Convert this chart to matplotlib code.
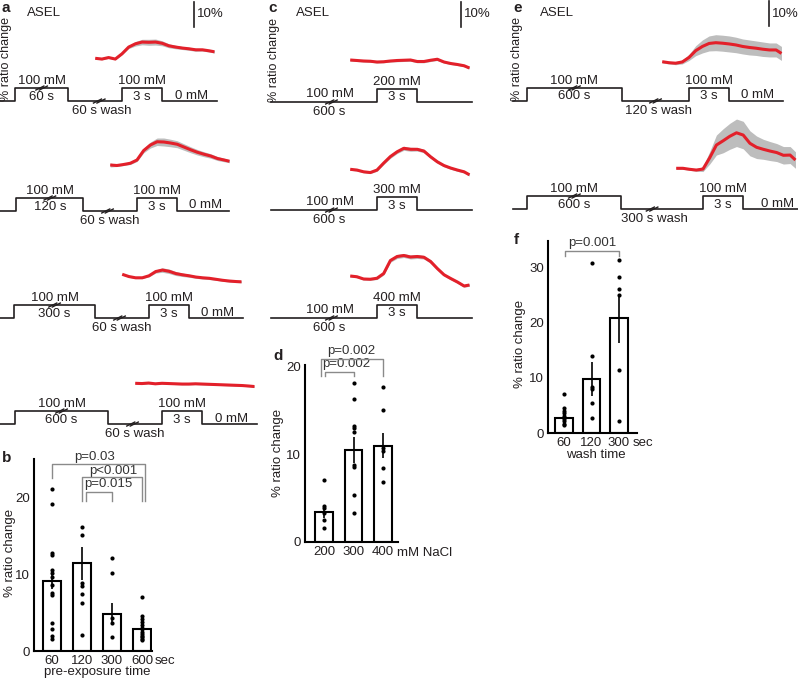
import matplotlib
matplotlib.use('Agg')
import matplotlib.pyplot as plt

plt.rcParams['font.family'] = ['Liberation Sans', 'DejaVu Sans']

W, H = 798, 679
PXS = 13.4   # pixels per second in the trace rows
PXP = 2.5    # pixels per % ratio change
RED = '#e3202a'
GREY = '#bdbdbd'
INK = '#231f20'
FS = 9.5

# ---- calcium traces (% ratio change, baseline = 0) ----
t_trace = [-2.0, -1.5, -1.0, -0.5, 0.0, 0.5, 1.0, 1.5, 2.0, 2.5,
           3.0, 3.5, 4.0, 4.5, 5.0, 5.5, 6.0, 6.5, 6.9]

a_60 = [0, -0.3, 0.3, -0.3, 1.8, 4.5, 5.8, 6.5, 6.4, 6.5, 6.0, 5.0, 4.5, 4.1, 3.8, 3.4, 3.4, 3.0, 2.6]
a_60_sem = [0.3, 0.3, 0.3, 0.3, 0.4, 0.6, 0.9, 1.1, 1.2, 1.2, 1.0, 0.8, 0.7, 0.6, 0.6, 0.6, 0.5, 0.5, 0.5]
a_120 = [0, -0.2, 0.2, 0.7, 2.0, 5.8, 8.0, 9.3, 9.2, 8.8, 8.3, 7.2, 6.1, 5.1, 4.3, 3.6, 2.6, 2.0, 1.5]
a_120_sem = [0.8, 0.4, 0.4, 0.5, 0.6, 0.9, 1.2, 1.5, 1.6, 1.5, 1.4, 1.3, 1.2, 1.1, 1.0, 0.9, 0.8, 0.7, 0.6]
a_300 = [0, -0.9, -1.4, -1.4, -0.6, 1.1, 1.7, 1.2, 0.3, -0.2, -0.6, -1.1, -1.4, -1.6, -2.0, -2.4, -2.7, -2.9, -3.0]
a_300_sem = [0.3, 0.3, 0.3, 0.3, 0.4, 0.6, 0.9, 0.9, 0.8, 0.7, 0.6, 0.5, 0.5, 0.5, 0.4, 0.4, 0.4, 0.4, 0.4]
a_600 = [0, -0.1, 0.1, -0.2, 0.0, -0.1, -0.2, -0.3, -0.3, -0.2, -0.3, -0.4, -0.5, -0.6, -0.7, -0.8, -0.9, -1.1, -1.3]
a_600_sem = [0.3, 0.3, 0.3, 0.3, 0.3, 0.3, 0.3, 0.3, 0.3, 0.3, 0.3, 0.3, 0.3, 0.3, 0.3, 0.3, 0.3, 0.3, 0.3]

c_200 = [0, -0.2, -0.4, -0.5, -0.8, -0.7, -0.4, -0.2, -0.1, 0.0, -0.6, -0.6, -0.1, 0.3, -0.8, -1.4, -1.8, -2.3, -3.2]
c_200_sem = [0.4, 0.4, 0.4, 0.4, 0.4, 0.4, 0.4, 0.5, 0.5, 0.5, 0.5, 0.5, 0.5, 0.5, 0.4, 0.4, 0.4, 0.4, 0.4]
c_300 = [0, -0.3, -1.0, -1.3, -0.3, 2.5, 5.1, 7.0, 8.4, 8.0, 8.0, 7.3, 5.0, 3.0, 1.5, 0.5, -0.3, -1.0, -2.2]
c_300_sem = [0.4, 0.4, 0.4, 0.4, 0.5, 0.6, 0.7, 0.7, 0.8, 0.8, 0.7, 0.7, 0.6, 0.6, 0.5, 0.5, 0.5, 0.5, 0.5]
c_400 = [0, -0.3, -1.2, -1.3, -0.9, 1.0, 6.2, 7.8, 8.2, 7.6, 7.8, 7.5, 5.8, 3.0, 0.5, -1.0, -2.4, -4.0, -3.6]
c_400_sem = [0.4, 0.4, 0.4, 0.4, 0.5, 0.6, 0.7, 0.8, 0.8, 0.8, 0.8, 0.7, 0.7, 0.6, 0.5, 0.5, 0.5, 0.5, 0.5]

e_120 = [0, -0.4, -0.6, -0.1, 1.7, 4.4, 6.1, 7.3, 7.6, 7.4, 7.1, 6.7, 6.1, 5.7, 5.4, 5.0, 4.7, 4.7, 3.3]
e_120_sem = [0.5, 0.5, 0.6, 0.8, 1.2, 2.0, 2.6, 3.0, 3.2, 3.2, 3.2, 3.1, 3.0, 3.0, 2.9, 2.9, 2.8, 2.8, 2.8]
e_300 = [0, 0.0, -0.4, -0.7, -0.3, 4.2, 9.3, 11.0, 12.8, 14.2, 13.3, 10.0, 8.4, 7.6, 6.9, 6.3, 5.2, 5.3, 3.3]
e_300_sem = [0.4, 0.4, 0.4, 0.5, 1.0, 2.5, 4.0, 4.8, 5.2, 5.5, 5.5, 5.0, 4.5, 4.0, 3.8, 3.6, 3.5, 3.4, 3.3]

# ---- bar charts ----
b_labels = ['60', '120', '300', '600']
b_means = [9.1, 11.4, 4.8, 2.8]
b_sems = [1.0, 2.1, 1.4, 0.4]
b_dots = [[21.1, 19.2, 12.7, 12.5, 10.6, 10.2, 9.6, 8.6, 7.5, 7.3, 3.7, 2.8, 1.9, 1.5],
          [16.1, 15.1, 8.8, 8.5, 7.4, 6.2, 2.1],
          [12.1, 10.2, 4.3, 3.7, 1.8],
          [7.0, 4.5, 4.2, 3.8, 3.4, 3.0, 2.8, 2.5, 2.2, 2.0, 1.8, 1.6, 1.4]]

d_labels = ['200', '300', '400']
d_means = [3.4, 10.5, 11.0]
d_sems = [0.7, 1.5, 1.4]
d_dots = [[7.1, 4.1, 3.9, 3.3, 2.5, 1.6],
          [18.2, 16.3, 13.2, 13.0, 12.5, 8.8, 8.6, 5.4, 3.3],
          [17.7, 15.1, 10.7, 10.4, 8.5, 6.8]]

f_labels = ['60', '120', '300']
f_means = [2.8, 9.8, 20.7]
f_sems = [0.6, 3.1, 4.4]
f_dots = [[7.1, 4.5, 3.9, 3.6, 3.1, 2.6, 2.1, 1.7, 1.5],
          [30.7, 13.9, 8.4, 8.0, 5.4, 2.7],
          [31.3, 28.2, 26.0, 25.0, 11.4, 2.1]]

fig = plt.figure(figsize=(W / 100, H / 100), dpi=100)


def ftext(x, y, s, **kw):
    kw.setdefault('fontsize', FS)
    kw.setdefault('color', INK)
    kw.setdefault('va', 'center')
    fig.text(x / W, 1 - y / H, s, **kw)


def row_axes(pulse_px, zero_px, xmin, xmax, ymin, ymax):
    left = pulse_px + xmin * PXS
    right = pulse_px + xmax * PXS
    top = zero_px - ymax * PXP
    bot = zero_px - ymin * PXP
    ax = fig.add_axes([left / W, 1 - bot / H, (right - left) / W, (bot - top) / H])
    ax.set_xlim(xmin, xmax)
    ax.set_ylim(ymin, ymax)
    ax.axis('off')
    return ax


def brk(ax, x, y):
    for k in (-0.13, 0.13):
        ax.plot([x + k - 0.3, x + k + 0.3], [y - 0.8, y + 0.8], color=INK, lw=1.0, clip_on=False)


def trace_row(pulse_px, zero_px, vals, sems, base, start, end, rise=None, fall=None,
              pre_lbl='', dur_lbl='', wash_lbl='', wash_x=0, zero_x=5.2, pulse_lbl='100 mM'):
    high = base + 5.2
    ax = row_axes(pulse_px, zero_px, start - 0.3, 7.8, base - 8, 26)
    lo = [v - s for v, s in zip(vals, sems)]
    hi = [v + s for v, s in zip(vals, sems)]
    ax.fill_between(t_trace, lo, hi, color=GREY, lw=0)
    ax.plot(t_trace, vals, color=RED, lw=2.2, solid_capstyle='butt')
    if rise is not None:
        xs = [start, rise, rise, fall, fall, 0, 0, 3, 3, end]
        ys = [base, base, high, high, base, base, high, high, base, base]
        ax.plot(xs, ys, color=INK, lw=1.2)
        mid = (rise + fall) / 2
        ax.text(mid, high + 2.8, pre_lbl, ha='center', va='center', fontsize=FS, color=INK)
        ax.text(mid, base + 1.8, dur_lbl, ha='center', va='center', fontsize=FS, color=INK)
        brk(ax, mid, high)
        ax.text(wash_x, base - 4.0, wash_lbl, ha='center', va='center', fontsize=FS, color=INK)
        brk(ax, wash_x - 0.2, base)
        ax.text(zero_x, base + 2.2, '0 mM', ha='center', va='center', fontsize=FS, color=INK)
    else:
        xs = [start, 0, 0, 3, 3, end]
        ys = [base, base, high, high, base, base]
        ax.plot(xs, ys, color=INK, lw=1.2)
        ax.text(-3.5, base + 3.2, pre_lbl, ha='center', va='center', fontsize=FS, color=INK)
        ax.text(-3.6, base - 4.0, dur_lbl, ha='center', va='center', fontsize=FS, color=INK)
        brk(ax, -3.4, base)
    ax.text(1.5, high + 2.8, pulse_lbl, ha='center', va='center', fontsize=FS, color=INK)
    ax.text(1.5, base + 1.8, '3 s', ha='center', va='center', fontsize=FS, color=INK)
    return ax


# panel a
ax = trace_row(122, 58.3, a_60, a_60_sem, -17.1, -9.1, 7.1, -8.0, -4.0, '100 mM', '60 s', '60 s wash', -1.5)
ax.plot([5.4, 5.4], [12.5, 22.5], color=INK, lw=1.2, clip_on=False)
trace_row(137, 165, a_120, a_120_sem, -18.4, -10.2, 6.9, -9.0, -4.0, '100 mM', '120 s', '60 s wash', -2.0, 5.1)
trace_row(149, 274.3, a_300, a_300_sem, -17.5, -11.1, 7.0, -10.1, -4.0, '100 mM', '300 s', '60 s wash', -2.0, 5.1)
trace_row(162, 383.3, a_600, a_600_sem, -16.3, -12.1, 7.1, -11.0, -4.0, '100 mM', '600 s', '60 s wash', -2.0, 5.2)

# panel c
ax = trace_row(377, 60, c_200, c_200_sem, -16.8, -7.9, 7.1, pre_lbl='100 mM', dur_lbl='600 s', pulse_lbl='200 mM')
ax.plot([6.3, 6.3], [13.2, 23.2], color=INK, lw=1.2, clip_on=False)
trace_row(377, 169.3, c_300, c_300_sem, -16.3, -7.9, 7.1, pre_lbl='100 mM', dur_lbl='600 s', pulse_lbl='300 mM')
trace_row(377, 276, c_400, c_400_sem, -16.8, -7.9, 7.1, pre_lbl='100 mM', dur_lbl='600 s', pulse_lbl='400 mM')

# panel e
ax = trace_row(689, 61.7, e_120, e_120_sem, -15.7, -13.1, 7.0, -12.1, -5.0, '100 mM', '600 s', '120 s wash', -2.3, 5.1)
ax.plot([6.0, 6.0], [14.3, 24.3], color=INK, lw=1.2, clip_on=False)
trace_row(703, 168.3, e_300, e_300_sem, -16.3, -14.2, 7.1, -13.1, -6.1, '100 mM', '600 s', '300 s wash', -3.6, 5.6)

# labels for trace panels
for letter, lx, ly, ax_x, yl_x, yl_y, sb_x in [('a', 1, 8, 27, 6, 59, 197),
                                               ('c', 268, 8, 296, 274, 60, 464),
                                               ('e', 513, 8, 540, 517, 59, 772)]:
    ftext(lx, ly, letter, fontsize=11, fontweight='bold', ha='left')
    ftext(ax_x, 13, 'ASEL', ha='left')
    ftext(yl_x, yl_y, '% ratio change', rotation=90, ha='center', fontsize=9)
    ftext(sb_x, 14, '10%', ha='left')


def bar_axes(x0, x1, y_top, y0, ylim, nbars, centers_px, spacing):
    ax = fig.add_axes([x0 / W, 1 - y0 / H, (x1 - x0) / W, (y0 - y_top) / H])
    ax.set_xlim((x0 - centers_px) / spacing, (x1 - centers_px) / spacing)
    ax.set_ylim(0, ylim)
    for s in ('top', 'right'):
        ax.spines[s].set_visible(False)
    for s in ('left', 'bottom'):
        ax.spines[s].set_linewidth(1.5)
        ax.spines[s].set_color('black')
    ax.tick_params(length=0, labelsize=FS, colors=INK, pad=3)
    ax.patch.set_alpha(0)
    return ax


def draw_bars(ax, labels, means, sems, dots, width):
    x = list(range(len(means)))
    ax.bar(x, means, width=width, color='white', edgecolor='black', lw=1.5, zorder=2)
    ax.errorbar(x, means, yerr=sems, fmt='none', ecolor='black', elinewidth=1.2, capsize=0, zorder=3)
    for i, d in enumerate(dots):
        ax.plot([i] * len(d), d, 'o', ms=3, color='black', mec='none', zorder=4, clip_on=False)
    ax.set_xticks(x)
    ax.set_xticklabels(labels)


def bracket(ax, x0, x1, top, bot0, bot1, text, tx, ty):
    ax.plot([x0, x0, x1, x1], [bot0, top, top, bot1], color='#8a8a8a', lw=1.0, clip_on=False, zorder=5)
    ax.text(tx, ty, text, ha='center', va='center', fontsize=FS, color='#333333', clip_on=False)


# panel b
axb = bar_axes(34, 152, 459, 651, 25, 4, 52, 30)
draw_bars(axb, b_labels, b_means, b_sems, b_dots, 0.6)
axb.set_yticks([0, 10, 20])
bracket(axb, 0, 3.1, 24.3, 22.5, 19.5, 'p=0.03', 1.43, 25.3)
bracket(axb, 1.0, 3.0, 22.6, 19.5, 19.5, 'p<0.001', 2.03, 23.5)
bracket(axb, 1.13, 2.0, 20.7, 19.5, 19.5, 'p=0.015', 1.87, 21.8)
ftext(2, 458, 'b', fontsize=11, fontweight='bold', ha='left')
ftext(10, 553, '% ratio change', rotation=90, ha='center')
ftext(155, 661, 'sec', ha='left')
ftext(97, 672, 'pre-exposure time', ha='center')

# panel d
axd = bar_axes(305, 398, 365, 542, 20.2, 3, 324, 29.5)
draw_bars(axd, d_labels, d_means, d_sems, d_dots, 0.58)
axd.set_yticks([0, 10, 20])
bracket(axd, -0.1, 2.0, 20.9, 18.9, 18.9, 'p=0.002', 0.92, 21.8)
bracket(axd, 0.03, 1.0, 19.4, 18.9, 18.9, 'p=0.002', 0.75, 20.3)
ftext(273, 356, 'd', fontsize=11, fontweight='bold', ha='left')
ftext(278, 453, '% ratio change', rotation=90, ha='center')
ftext(397, 553, 'mM NaCl', ha='left')

# panel f
axf = bar_axes(548, 637, 241, 433, 34.7, 3, 564, 27.5)
draw_bars(axf, f_labels, f_means, f_sems, f_dots, 0.62)
axf.set_yticks([0, 10, 20, 30])
bracket(axf, 0.04, 2.0, 32.9, 32.0, 32.0, 'p=0.001', 1.02, 34.4)
ftext(514, 240, 'f', fontsize=11, fontweight='bold', ha='left')
ftext(520, 344, '% ratio change', rotation=90, ha='center')
ftext(633, 443, 'sec', ha='left')
ftext(596, 455, 'wash time', ha='center')

fig.savefig('out.png', dpi=100)
